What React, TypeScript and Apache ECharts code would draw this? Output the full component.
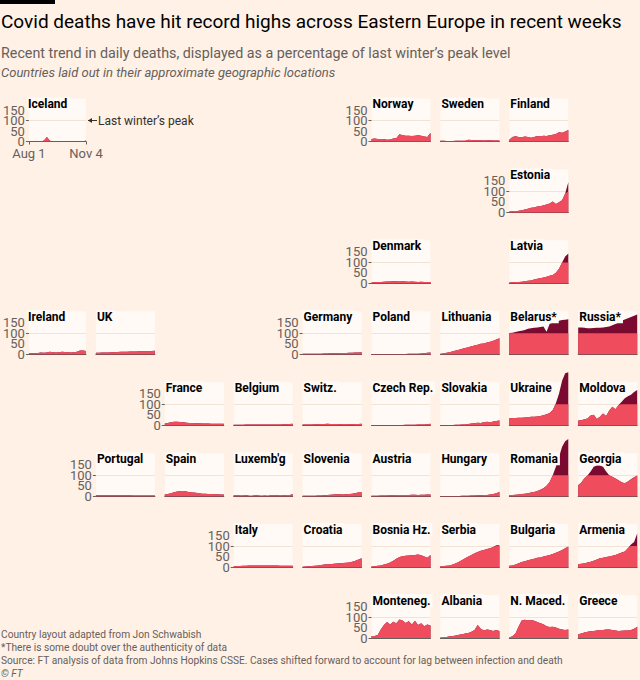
import React, { useEffect, useRef } from 'react';
import * as echarts from 'echarts';

// ---------- Data ----------
const dates = ['Aug 1', 'Aug 6', 'Aug 11', 'Aug 16', 'Aug 21', 'Aug 26', 'Aug 31', 'Sep 5', 'Sep 10', 'Sep 15',
  'Sep 20', 'Sep 25', 'Sep 30', 'Oct 5', 'Oct 10', 'Oct 15', 'Oct 20', 'Oct 25', 'Oct 30', 'Nov 4'];

// y tick labels, split in two sets so neighbouring labels never collide
const yTickLabelsA = [0, 100];
const yTickLabelsB = [50, 150];

const iceland = [0, 0, 0, 0, 0, 5, 22, 3, 0, 0, 0, 0, 0, 0, 0, 0, 0, 0, 0, 5];
const norway = [12, 14, 12, 10, 12, 8, 10, 14, 16, 34, 30, 27, 28, 26, 28, 30, 28, 24, 22, 42];
const sweden = [3, 3, 2, 2, 2, 3, 3, 3, 4, 8, 7, 6, 6, 6, 5, 6, 6, 5, 5, 5];
const finland = [8, 22, 25, 22, 20, 24, 22, 18, 22, 26, 24, 28, 26, 30, 32, 36, 44, 42, 48, 55];
const estonia = [5, 6, 5, 8, 10, 14, 18, 22, 24, 28, 30, 34, 38, 42, 52, 40, 48, 58, 90, 144];
const denmark = [4, 5, 6, 6, 8, 9, 9, 10, 10, 9, 10, 9, 8, 9, 8, 7, 8, 7, 6, 6];
const latvia = [4, 5, 6, 6, 8, 10, 12, 14, 18, 22, 24, 28, 32, 36, 40, 50, 70, 100, 128, 142];
const ireland = [5, 5, 5, 6, 8, 7, 8, 12, 10, 9, 10, 12, 11, 10, 9, 10, 12, 18, 18, 16];
const uk = [7, 7, 8, 9, 9, 10, 10, 11, 12, 12, 12, 13, 13, 13, 14, 14, 14, 15, 16, 17];
const germany = [3, 3, 2, 2, 3, 3, 3, 4, 4, 5, 5, 5, 6, 6, 6, 7, 7, 8, 9, 10];
const poland = [1, 1, 1, 1, 1, 1, 1, 1, 1, 1, 1, 1, 2, 2, 3, 3, 4, 5, 7, 9];
const lithuania = [2, 4, 7, 10, 14, 18, 22, 26, 30, 34, 38, 42, 45, 50, 52, 56, 60, 64, 70, 76];
const belarus = [102, 103, 106, 110, 112, 116, 122, 124, 126, 128, 130, 133, 108, 146, 150, 155, 160, 163, 165, 167];
const russia = [128, 128, 126, 124, 124, 125, 126, 127, 128, 130, 133, 138, 145, 152, 160, 166, 172, 178, 184, 190];
const france = [8, 10, 14, 17, 16, 15, 14, 12, 11, 10, 9, 9, 8, 8, 8, 7, 7, 7, 7, 7];
const belgium = [2, 2, 2, 2, 3, 3, 3, 3, 3, 3, 4, 4, 4, 4, 4, 4, 5, 5, 6, 7];
const switzerland = [3, 3, 4, 4, 5, 5, 6, 6, 7, 6, 6, 6, 5, 6, 6, 5, 5, 6, 6, 7];
const czechRep = [1, 1, 1, 1, 1, 1, 1, 1, 1, 1, 1, 2, 2, 2, 2, 3, 3, 4, 5, 7];
const slovakia = [1, 1, 1, 1, 1, 2, 2, 3, 4, 6, 8, 9, 12, 10, 14, 16, 13, 18, 20, 23];
const ukraine = [33, 34, 35, 36, 36, 37, 38, 40, 40, 42, 44, 47, 52, 58, 72, 105, 150, 212, 248, 252];
const moldova = [22, 24, 28, 32, 46, 50, 30, 40, 56, 44, 70, 88, 76, 96, 112, 128, 138, 145, 158, 168];
const portugal = [4, 4, 4, 4, 4, 4, 4, 4, 4, 4, 4, 4, 3, 3, 3, 3, 3, 3, 3, 3];
const spain = [8, 10, 14, 18, 22, 25, 24, 22, 18, 17, 16, 14, 12, 11, 10, 10, 9, 9, 8, 8];
const luxembourg = [4, 6, 3, 3, 5, 2, 2, 6, 3, 2, 3, 2, 4, 5, 4, 3, 4, 6, 5, 9];
const slovenia = [2, 2, 2, 2, 2, 3, 3, 4, 5, 7, 8, 9, 9, 8, 9, 10, 12, 15, 17, 18];
const austria = [2, 2, 2, 3, 3, 3, 4, 4, 5, 5, 6, 6, 6, 7, 7, 6, 7, 7, 8, 8];
const hungary = [1, 1, 1, 1, 1, 1, 1, 2, 2, 2, 3, 3, 4, 4, 5, 6, 8, 10, 14, 20];
const romania = [5, 6, 7, 8, 10, 12, 14, 17, 20, 24, 30, 38, 50, 68, 100, 140, 185, 235, 262, 272];
const georgia = [52, 65, 85, 98, 118, 140, 146, 146, 140, 118, 100, 92, 84, 76, 66, 62, 70, 80, 90, 98];
const italy = [4, 5, 5, 6, 6, 7, 7, 8, 8, 8, 8, 7, 7, 7, 7, 6, 6, 6, 6, 6];
const croatia = [2, 3, 4, 5, 6, 8, 10, 12, 13, 14, 16, 17, 18, 20, 21, 22, 26, 30, 36, 42];
const bosnia = [3, 4, 6, 8, 12, 16, 22, 30, 40, 48, 52, 54, 55, 56, 58, 60, 56, 50, 44, 58];
const serbia = [4, 5, 6, 8, 12, 18, 26, 34, 42, 50, 58, 66, 72, 78, 82, 86, 90, 96, 104, 104];
const bulgaria = [6, 8, 12, 18, 24, 28, 32, 36, 40, 44, 46, 50, 54, 58, 62, 68, 74, 82, 90, 98];
const armenia = [14, 16, 18, 22, 26, 30, 36, 42, 44, 48, 50, 54, 58, 64, 70, 74, 90, 108, 120, 160];
const montenegro = [9, 10, 14, 40, 62, 76, 64, 78, 70, 88, 84, 72, 80, 64, 82, 62, 70, 56, 64, 60];
const albania = [2, 3, 5, 8, 10, 12, 15, 18, 21, 24, 30, 38, 62, 44, 36, 40, 38, 34, 38, 34];
const nMacedonia = [3, 8, 22, 55, 84, 87, 84, 86, 82, 76, 70, 66, 56, 52, 54, 50, 44, 40, 38, 40];
const greece = [18, 22, 26, 30, 32, 34, 36, 38, 38, 40, 40, 38, 36, 34, 35, 36, 36, 38, 44, 54];

// ---------- Layout (grid cell of each panel) ----------
const panels = [
  { name: 'Iceland', values: iceland, row: 0, col: 0, labels: true },
  { name: 'Norway', values: norway, row: 0, col: 5, labels: true },
  { name: 'Sweden', values: sweden, row: 0, col: 6, labels: false },
  { name: 'Finland', values: finland, row: 0, col: 7, labels: false },
  { name: 'Estonia', values: estonia, row: 1, col: 7, labels: true },
  { name: 'Denmark', values: denmark, row: 2, col: 5, labels: true },
  { name: 'Latvia', values: latvia, row: 2, col: 7, labels: false },
  { name: 'Ireland', values: ireland, row: 3, col: 0, labels: true },
  { name: 'UK', values: uk, row: 3, col: 1, labels: false },
  { name: 'Germany', values: germany, row: 3, col: 4, labels: true },
  { name: 'Poland', values: poland, row: 3, col: 5, labels: false },
  { name: 'Lithuania', values: lithuania, row: 3, col: 6, labels: false },
  { name: 'Belarus*', values: belarus, row: 3, col: 7, labels: false },
  { name: 'Russia*', values: russia, row: 3, col: 8, labels: false },
  { name: 'France', values: france, row: 4, col: 2, labels: true },
  { name: 'Belgium', values: belgium, row: 4, col: 3, labels: false },
  { name: 'Switz.', values: switzerland, row: 4, col: 4, labels: false },
  { name: 'Czech Rep.', values: czechRep, row: 4, col: 5, labels: false },
  { name: 'Slovakia', values: slovakia, row: 4, col: 6, labels: false },
  { name: 'Ukraine', values: ukraine, row: 4, col: 7, labels: false },
  { name: 'Moldova', values: moldova, row: 4, col: 8, labels: false },
  { name: 'Portugal', values: portugal, row: 5, col: 1, labels: true },
  { name: 'Spain', values: spain, row: 5, col: 2, labels: false },
  { name: "Luxemb'g", values: luxembourg, row: 5, col: 3, labels: false },
  { name: 'Slovenia', values: slovenia, row: 5, col: 4, labels: false },
  { name: 'Austria', values: austria, row: 5, col: 5, labels: false },
  { name: 'Hungary', values: hungary, row: 5, col: 6, labels: false },
  { name: 'Romania', values: romania, row: 5, col: 7, labels: false },
  { name: 'Georgia', values: georgia, row: 5, col: 8, labels: false },
  { name: 'Italy', values: italy, row: 6, col: 3, labels: true },
  { name: 'Croatia', values: croatia, row: 6, col: 4, labels: false },
  { name: 'Bosnia Hz.', values: bosnia, row: 6, col: 5, labels: false },
  { name: 'Serbia', values: serbia, row: 6, col: 6, labels: false },
  { name: 'Bulgaria', values: bulgaria, row: 6, col: 7, labels: false },
  { name: 'Armenia', values: armenia, row: 6, col: 8, labels: false },
  { name: 'Monteneg.', values: montenegro, row: 7, col: 5, labels: true },
  { name: 'Albania', values: albania, row: 7, col: 6, labels: false },
  { name: 'N. Maced.', values: nMacedonia, row: 7, col: 7, labels: false },
  { name: 'Greece', values: greece, row: 7, col: 8, labels: false },
];

// ---------- Styles ----------
const FONT = 'Roboto, "Noto Sans", sans-serif';
const PAGE_BG = '#fff1e5';
const PANEL_BG = '#fffaf6';
const GRID_LIGHT = '#f2e3d7';
const GRID_DARK = '#66605c';
const GREY = '#66605c';
const RED = '#ef4d5e';
const MAROON = '#7b0a30';

const COL0 = 27;
const COLSTEP = 68.9;
const ROW0 = 141.5;
const ROWSTEP = 70.93;
const PW = 59;
const BOXH = 43;
const YMAX = 205;
const NONE = 'rgba(0,0,0,0)';

function buildOption() {
  const grid: any[] = [];
  const xAxis: any[] = [];
  const yAxis: any[] = [];
  const extraY: any[] = [];
  const series: any[] = [];
  const title: any[] = [];
  const last = dates.length - 1;

  const labelStyle = {
    margin: 4, showMinLabel: true, showMaxLabel: true, hideOverlap: false,
    color: GREY, fontSize: 13, lineHeight: 10, fontFamily: FONT,
  };

  panels.forEach((p, i) => {
    const left = COL0 + p.col * COLSTEP;
    const zero = ROW0 + p.row * ROWSTEP;
    const isIceland = p.name === 'Iceland';
    grid.push({
      left, top: zero - BOXH, width: PW, height: BOXH,
      show: true, backgroundColor: PANEL_BG, borderWidth: 0, containLabel: false,
    });
    xAxis.push({
      type: 'category', gridIndex: i, data: dates, boundaryGap: false,
      axisLine: { show: true, lineStyle: { color: GRID_DARK, width: 1 } },
      axisTick: {
        show: isIceland, interval: (idx: number) => idx === 0 || idx === last,
        length: 3, lineStyle: { color: GREY },
      },
      axisLabel: {
        show: isIceland, interval: 0, margin: 5,
        formatter: (v: string, idx: number) => (idx === 0 || idx === last ? v : ''),
        color: GREY, fontSize: 13, fontFamily: FONT,
      },
      splitLine: { show: false },
    });
    yAxis.push({
      type: 'value', gridIndex: i, position: 'left', offset: 0, min: 0, max: YMAX, interval: 50,
      axisLine: { show: false },
      axisTick: { show: p.labels, customValues: [0, 100], length: 3, lineStyle: { color: GREY } },
      axisLabel: { show: p.labels, customValues: yTickLabelsA, ...labelStyle },
      splitLine: {
        show: true,
        lineStyle: { width: 1, color: [NONE, GRID_LIGHT, GRID_DARK, GRID_LIGHT, NONE, NONE, NONE] },
      },
    });
    if (p.labels) {
      extraY.push({
        type: 'value', gridIndex: i, position: 'left', offset: 0, min: 0, max: YMAX, interval: 50,
        axisLine: { show: false }, axisTick: { show: false }, splitLine: { show: false },
        axisLabel: { show: true, customValues: yTickLabelsB, ...labelStyle },
      });
    }
    series.push({
      type: 'line', name: p.name + ' above', xAxisIndex: i, yAxisIndex: i, data: p.values,
      showSymbol: false, symbol: 'none', silent: true, clip: false, z: 2,
      lineStyle: { width: 0 }, areaStyle: { color: MAROON, opacity: 1 },
    });
    series.push({
      type: 'line', name: p.name, xAxisIndex: i, yAxisIndex: i,
      data: p.values.map((v) => Math.min(v, 100)),
      showSymbol: false, symbol: 'none', silent: true, clip: false, z: 3,
      lineStyle: { width: 0 }, areaStyle: { color: RED, opacity: 1 },
    });
    title.push({
      text: p.name, left: left, top: zero - 44,
      padding: [0, 2, 0, 1], backgroundColor: PANEL_BG, z: 10,
      textStyle: { fontSize: 12, fontWeight: 'bold', color: '#000', fontFamily: FONT, lineHeight: 13 },
    });
  });

  const icelandZero = ROW0;
  const hundredY = icelandZero - (100 / YMAX) * BOXH;
  const arrowX = COL0 + PW + 2;

  const graphic: any[] = [
    { type: 'rect', shape: { x: 0, y: 0, width: 55, height: 4 }, style: { fill: '#000' } },
    {
      type: 'text', x: 1, y: 21,
      style: { text: 'Covid deaths have hit record highs across Eastern Europe in recent weeks', fill: '#000', font: `19px ${FONT}`, verticalAlign: 'middle' },
    },
    {
      type: 'text', x: 1, y: 53,
      style: { text: 'Recent trend in daily deaths, displayed as a percentage of last winter’s peak level', fill: GREY, font: `14.3px ${FONT}`, verticalAlign: 'middle' },
    },
    {
      type: 'text', x: 1, y: 72,
      style: { text: 'Countries laid out in their approximate geographic locations', fill: GREY, font: `italic 13px ${FONT}`, verticalAlign: 'middle' },
    },
    { type: 'line', shape: { x1: arrowX, y1: hundredY, x2: arrowX + 9, y2: hundredY }, style: { stroke: '#33302e', lineWidth: 1 } },
    { type: 'polygon', shape: { points: [[arrowX, hundredY], [arrowX + 4, hundredY - 2.5], [arrowX + 4, hundredY + 2.5]] }, style: { fill: '#33302e' } },
    {
      type: 'text', x: arrowX + 10, y: hundredY,
      style: { text: 'Last winter’s peak', fill: '#33302e', font: `12px ${FONT}`, verticalAlign: 'middle' },
    },
    {
      type: 'text', x: 1, y: 634,
      style: { text: 'Country layout adapted from Jon Schwabish', fill: GREY, font: `10.2px ${FONT}`, verticalAlign: 'middle' },
    },
    {
      type: 'text', x: 1, y: 647,
      style: { text: '*There is some doubt over the authenticity of data', fill: GREY, font: `10.2px ${FONT}`, verticalAlign: 'middle' },
    },
    {
      type: 'text', x: 1, y: 660,
      style: { text: 'Source: FT analysis of data from Johns Hopkins CSSE. Cases shifted forward to account for lag between infection and death', fill: GREY, font: `10.2px ${FONT}`, verticalAlign: 'middle' },
    },
    {
      type: 'text', x: 1, y: 673,
      style: { text: '© FT', fill: GREY, font: `italic 10.2px ${FONT}`, verticalAlign: 'middle' },
    },
  ];

  return {
    animation: false,
    backgroundColor: PAGE_BG,
    title, grid, xAxis, yAxis: [...yAxis, ...extraY], series, graphic,
  };
}

export default function App() {
  const ref = useRef<HTMLDivElement>(null);
  useEffect(() => {
    document.body.style.margin = '0';
    if (!ref.current) return;
    const chart = echarts.init(ref.current, undefined, { renderer: 'svg' });
    chart.setOption(buildOption() as any);
    return () => chart.dispose();
  }, []);
  return <div ref={ref} style={{ width: 640, height: 680, background: PAGE_BG }} />;
}
